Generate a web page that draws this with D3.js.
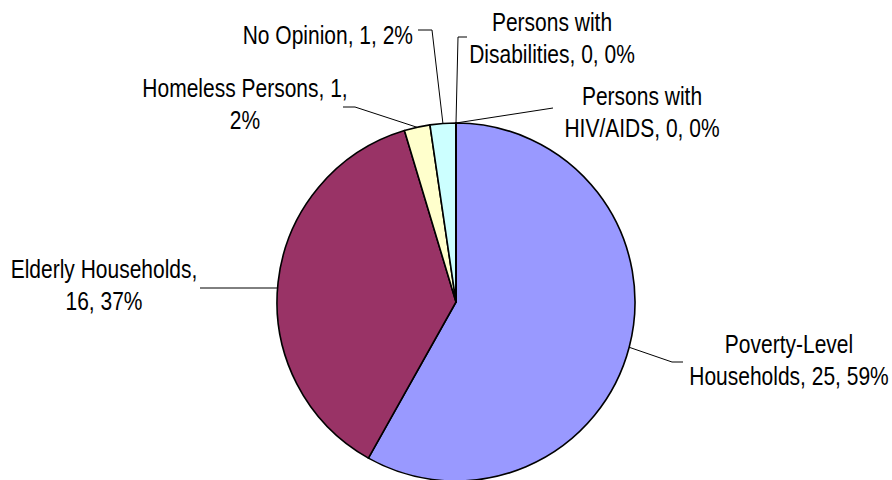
<!DOCTYPE html>
<html>
<head>
<meta charset="utf-8">
<script src="https://cdn.jsdelivr.net/npm/d3@7"></script>
<style>
  body { margin: 0; background: #fff; }
  svg text { font-family: "Liberation Sans Narrow", "Arial Narrow", "Liberation Sans", Arial, sans-serif; font-size: 25px; fill: #000; }
</style>
</head>
<body>
<svg id="chart" width="892" height="480"></svg>
<script>
// Chart data
const categories = ["Poverty-Level Households", "Elderly Households", "Homeless Persons", "No Opinion", "Persons with Disabilities", "Persons with HIV/AIDS"];
const counts = [25, 16, 1, 1, 0, 0];
const percentLabels = ["59%", "37%", "2%", "2%", "0%", "0%"];
const colors = ["#9999FF", "#993366", "#FFFFCC", "#CCFFFF", "#FFFFFF", "#FFFFFF"];

// Label text lines (as wrapped in the original)
const labelLines = [
    ["Poverty-Level", "Households, 25, 59%"],
    ["Elderly Households,", "16, 37%"],
    ["Homeless Persons, 1,", "2%"],
    ["No Opinion, 1, 2%"],
    ["Persons with", "Disabilities, 0, 0%"],
    ["Persons with", "HIV/AIDS, 0, 0%"]
];

// Label placement (dragged labels, like the original)
// level: leader meets the rim at the height of its first point
const labelLayout = [
    { x: 789, y: 344, anchor: "middle", leader: [[672, 362], [683, 362]] },
    { x: 104, y: 269, anchor: "middle", leader: [[200, 288]], level: true },
    { x: 245, y: 88,  anchor: "middle", leader: [[355, 107], [343, 107]] },
    { x: 413, y: 35,  anchor: "end",    leader: [[432, 30], [418, 30]] },
    { x: 552, y: 22,  anchor: "middle", leader: [[458, 37], [467, 37]] },
    { x: 642, y: 96,  anchor: "middle", leader: [[553, 108]] }
];

const svg = d3.select("#chart");
const cx = 456, cy = 302, radius = 179;
const lineGap = 32;
// no narrow face installed: squeeze the regular one horizontally
const squeeze = 0.84;

const data = categories.map((c, i) => ({ name: c, value: counts[i], i: i }));

const pie = d3.pie()
    .sort(null)
    .value(d => d.value);

const arc = d3.arc()
    .innerRadius(0)
    .outerRadius(radius);

// point on the rim used for leader lines
const rimArc = d3.arc()
    .innerRadius(radius)
    .outerRadius(radius);

const arcs = pie(data);

const g = svg.append("g")
    .attr("transform", `translate(${cx},${cy})`);

g.selectAll("path.slice")
    .data(arcs)
    .enter().append("path")
        .attr("class", "slice")
        .attr("d", arc)
        .attr("fill", d => colors[d.data.i])
        .attr("stroke", "#000")
        .attr("stroke-width", 1.6)
        .attr("stroke-linejoin", "round");

// Leader lines
const line = d3.line();
arcs.forEach(d => {
    const lay = labelLayout[d.data.i];
    let rim = rimArc.centroid(d);
    if (lay.level) {
        const dy = lay.leader[0][1] - cy;
        const dx = Math.sqrt(radius * radius - dy * dy);
        rim = [rim[0] < 0 ? -dx : dx, dy];
    }
    const pts = [[rim[0] + cx, rim[1] + cy]].concat(lay.leader);
    svg.append("path")
        .attr("d", line(pts))
        .attr("fill", "none")
        .attr("stroke", "#000")
        .attr("stroke-width", 1);
});

// Labels
arcs.forEach(d => {
    const lay = labelLayout[d.data.i];
    const t = svg.append("text")
        .attr("transform", `translate(${lay.x},${lay.y}) scale(${squeeze},1)`)
        .attr("text-anchor", lay.anchor)
        .attr("dominant-baseline", "central");
    labelLines[d.data.i].forEach((s, k) => {
        t.append("tspan")
            .attr("x", 0)
            .attr("y", k * lineGap)
            .text(s);
    });
});
</script>
</body>
</html>
